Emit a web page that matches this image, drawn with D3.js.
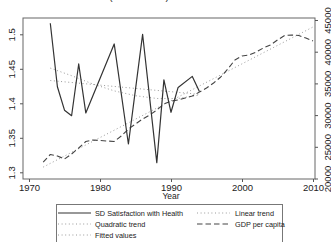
<!DOCTYPE html>
<html><head><meta charset="utf-8">
<script src="https://cdn.jsdelivr.net/npm/d3@7/dist/d3.min.js"></script>
<style>body{margin:0;background:#fff}svg{display:block}text{font-family:"Liberation Sans",Arial,sans-serif;fill:#222}</style>
</head><body><svg id="c" width="331" height="242"></svg>
<script>
// SD of satisfaction with health
const sdYears = [1973,1974,1975,1976,1977,1978,1982,1984,1986,1988,1989,1990,1991,1993,1994];
const sdValues = [1.516,1.424,1.390,1.382,1.457,1.386,1.486,1.341,1.500,1.314,1.434,1.387,1.423,1.439,1.417];
// Linear trend of SD
const linYears = [1973,1994];
const linValues = [1.433,1.413];
// Quadratic trend of SD
const quadYears = [1973,1976,1979,1982,1985,1988,1991,1994];
const quadValues = [1.451,1.440,1.428,1.418,1.411,1.407,1.407,1.412];
// GDP per capita (right axis)
const gdpYears = [1972,1973,1974,1975,1976,1977,1978,1979,1980,1981,1982,1983,1984,1985,1986,1987,1988,1989,1990,1991,1992,1993,1994,1995,1996,1997,1998,1999,2000,2001,2002,2003,2004,2005,2006,2007,2008,2009,2010];
const gdpValues = [22600,23790,23550,23080,23860,24810,25840,26070,25990,25910,25840,26700,27810,28600,29380,30020,30800,31750,32220,32380,32700,33010,33640,34270,35060,36010,37270,38690,39320,39480,39950,40580,41060,41850,42560,42630,42560,42160,41690];
// Fitted values of GDP
const fitYears = [1972,2010];
const fitValues = [21800,43900];
// ticks
const xTicks = [1970,1980,1990,2000,2010];
const yLeftTicks = [1.3,1.35,1.4,1.45,1.5];
const yLeftLabels = ["1.3","1.35","1.4","1.45","1.5"];
const yRightTicks = [20000,25000,30000,35000,40000,45000];
const legendItems = [
  {label:"SD Satisfaction with Health", kind:"solid"},
  {label:"Linear trend", kind:"dot"},
  {label:"Quadratic trend", kind:"dot"},
  {label:"GDP per capita", kind:"dash"},
  {label:"Fitted values", kind:"dot"}
];
const titleText = "(SOEP West)";

const L=23, R=315, T=18, B=179;
const svg = d3.select("#c");
const x = d3.scaleLinear().domain([1969.155,2010.28]).range([L,R]);
const yL = d3.scaleLinear().domain([1.29029,1.52362]).range([B,T]);
const yR = d3.scaleLinear().domain([20000,45000]).range([178.5,20]);

const styles = {
  solid:{stroke:"#333",w:1.2,dash:null},
  dot:{stroke:"#9a9a9a",w:1,dash:"1,2.6"},
  dash:{stroke:"#444",w:1.1,dash:"5.5,3"}
};

svg.append("text").attr("x",139).attr("y",-0.4).attr("text-anchor","middle").attr("font-size",10).text(titleText);

// frame
svg.append("rect").attr("x",L).attr("y",T).attr("width",R-L).attr("height",B-T)
  .attr("fill","none").attr("stroke","#666").attr("stroke-width",1);

function line(xs, vs, ys, st){
  const g = d3.line().x((d,i)=>x(xs[i])).y(d=>ys(d));
  const s = styles[st];
  svg.append("path").attr("d",g(vs)).attr("fill","none").attr("stroke",s.stroke)
    .attr("stroke-width",s.w).attr("stroke-dasharray",s.dash).attr("stroke-linejoin","round");
}
line(fitYears, fitValues, yR, "dot");
line(linYears, linValues, yL, "dot");
line(quadYears, quadValues, yL, "dot");
line(gdpYears, gdpValues, yR, "dash");
line(sdYears, sdValues, yL, "solid");

// bottom axis
const gx = svg.append("g").attr("transform",`translate(0,${B})`)
  .call(d3.axisBottom(x).tickValues(xTicks).tickFormat(d3.format("d")).tickSize(3).tickPadding(2));
gx.select(".domain").remove();
gx.selectAll("line").attr("stroke","#555");
gx.selectAll("text").attr("font-size",9.5).attr("fill","#222").attr("dy",null).attr("y",12);

svg.append("text").attr("x",x(1990)).attr("y",199).attr("text-anchor","middle").attr("font-size",8.5).text("Year");

// left axis
const gl = svg.append("g").attr("transform",`translate(${L},0)`)
  .call(d3.axisLeft(yL).tickValues(yLeftTicks).tickFormat((d,i)=>yLeftLabels[i]).tickSize(3));
gl.select(".domain").remove();
gl.selectAll("line").attr("stroke","#555");
gl.selectAll("text").attr("font-size",9.5).attr("fill","#222")
  .attr("x",null).attr("dy",null).attr("text-anchor","middle")
  .attr("transform","translate(-7.7,0) rotate(-90)");

// right axis
const gr = svg.append("g").attr("transform",`translate(${R},0)`)
  .call(d3.axisRight(yR).tickValues(yRightTicks).tickFormat(d3.format("d")).tickSize(3));
gr.select(".domain").remove();
gr.selectAll("line").attr("stroke","#555");
gr.selectAll("text").attr("font-size",9.5).attr("fill","#222")
  .attr("x",null).attr("dy",null).attr("text-anchor","middle")
  .attr("transform","translate(15.5,0) rotate(-90)");

// legend
const lg = svg.append("g");
lg.append("rect").attr("x",56.5).attr("y",204.5).attr("width",226).attr("height",45)
  .attr("fill","#fff").attr("stroke","#777").attr("stroke-width",1);
legendItems.forEach((it,i)=>{
  const col = i%2, row = Math.floor(i/2);
  const cy = 213 + row*11;
  const x0 = col===0 ? 58 : 197, x1 = col===0 ? 91 : 230, tx = col===0 ? 95 : 235;
  const s = styles[it.kind];
  lg.append("line").attr("x1",x0).attr("x2",x1).attr("y1",cy).attr("y2",cy)
    .attr("stroke",s.stroke).attr("stroke-width",s.w).attr("stroke-dasharray",s.dash);
  lg.append("text").attr("x",tx).attr("y",cy+2.6).attr("font-size",7.3).text(it.label);
});
</script></body></html>
